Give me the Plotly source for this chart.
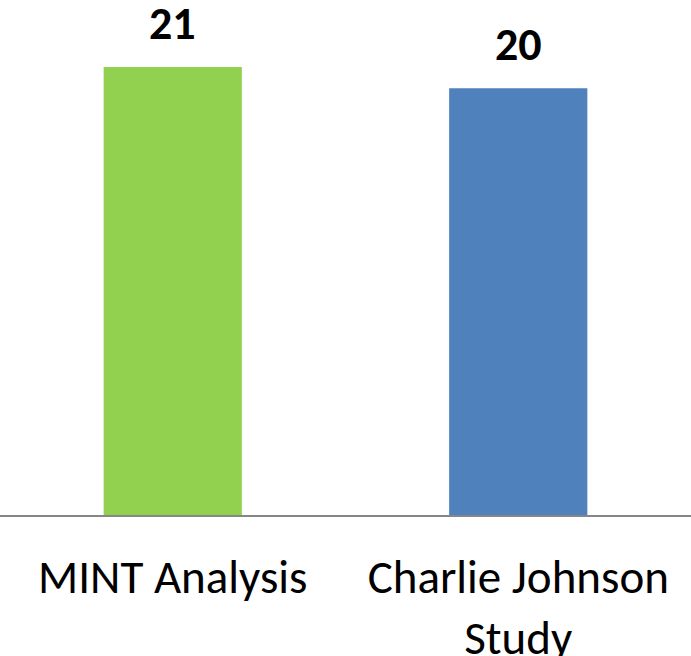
import plotly.graph_objects as go

categories = ["MINT Analysis", "Charlie Johnson<br>Study"]
values = [21, 20]
colors = ["#92D050", "#4F81BD"]

FONT = "Carlito, 'Liberation Sans Narrow', 'DejaVu Sans Condensed', Lato, sans-serif"

fig = go.Figure()
fig.add_trace(go.Bar(
    x=categories, y=values, marker=dict(color=colors, line=dict(width=0)),
    width=0.4, hoverinfo="skip",
))
for c, v in zip(categories, values):
    fig.add_annotation(x=c, y=v, text=f"<b>{v}</b>", showarrow=False,
                       yanchor="bottom", yshift=14,
                       font=dict(family=FONT, size=46, color="black"))

fig.update_layout(
    width=691, height=656,
    margin=dict(l=0, r=0, t=0, b=141, autoexpand=False),
    plot_bgcolor="white", paper_bgcolor="white",
    showlegend=False,
    xaxis=dict(showline=True, linecolor="#868686", linewidth=1.5,
               automargin=False,
               ticks="", tickfont=dict(family=FONT, size=47, color="black"),
               showgrid=False, zeroline=False, ticklabelstandoff=20),
    yaxis=dict(range=[0, 24.14], visible=False, showgrid=False, zeroline=False,
               automargin=False),
)
fig.write_html("out.html", config={"displayModeBar": False},
               post_script="document.body.style.margin='0';document.body.style.overflow='hidden';")
